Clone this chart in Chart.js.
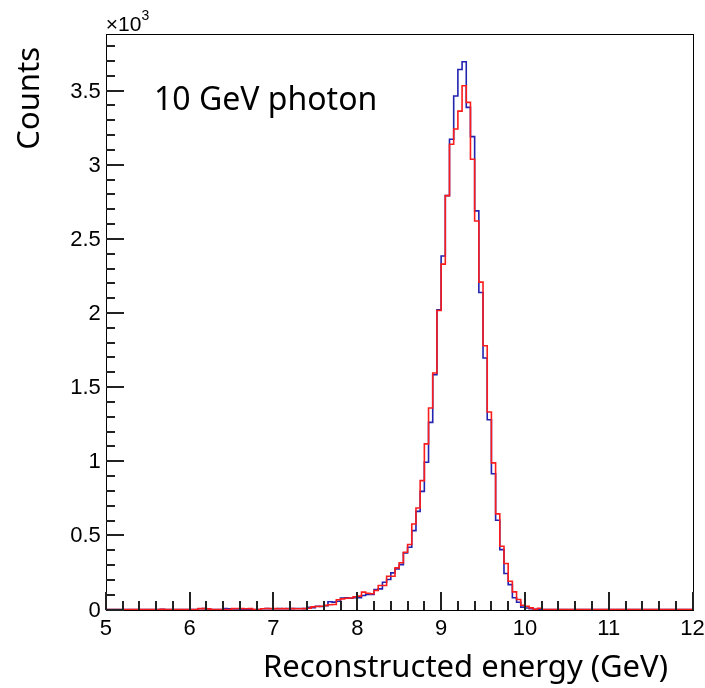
<!DOCTYPE html>
<html>
<head>
<meta charset="utf-8">
<script src="https://cdn.jsdelivr.net/npm/chart.js@4.4.0/dist/chart.umd.min.js"></script>
<style>
  html, body { margin: 0; padding: 0; background: #fff; }
</style>
</head>
<body>
<canvas id="energyChart" width="705" height="688"></canvas>
<script>
// histogram binning: 140 bins of 0.05 GeV from 5 to 12
var binStart = 5.0;
var binWidth = 0.05;

// counts per bin, one row per GeV (20 bins each)
var blueCounts = [
  0, 0, 0, 0, 0, 0, 0, 0, 0, 0, 0, 0, 0, 2, 0, 0, 0, 0, 0, 0,
  0, 0, 5, 6, 4, 0, 0, 0, 6, 5, 3, 4, 0, 0, 0, 0, 0, 5, 6, 5,
  5, 6, 5, 6, 6, 7, 7, 6, 14, 12, 22, 20, 25, 52, 50, 56, 78, 79, 76, 79,
  80, 94, 101, 101, 135, 139, 184, 202, 247, 274, 303, 382, 420, 532, 662, 797, 993, 1262, 1583, 2022,
  2385, 2792, 3172, 3464, 3643, 3695, 3387, 3190, 2689, 2138, 1696, 1280, 916, 602, 404, 243, 168, 79, 49, 16,
  10, 6, 2, 2, 0, 0, 0, 0, 0, 0, 0, 0, 0, 0, 0, 0, 0, 0, 0, 0,
  0, 0, 0, 0, 0, 0, 0, 0, 0, 0, 0, 0, 0, 0, 0, 0, 0, 0, 0, 0
];
var redCounts = [
  0, 0, 0, 0, 0, 0, 0, 0, 0, 0, 0, 0, 0, 2, 0, 0, 0, 0, 0, 0,
  0, 0, 6, 6, 4, 0, 0, 0, 0, 0, 6, 7, 6, 5, 6, 0, 0, 5, 7, 6,
  6, 5, 6, 5, 6, 5, 5, 6, 8, 18, 20, 22, 28, 32, 34, 66, 72, 76, 78, 85,
  90, 117, 110, 106, 128, 162, 162, 224, 224, 281, 315, 386, 438, 577, 685, 869, 1117, 1359, 1595, 2017,
  2330, 2792, 3138, 3241, 3362, 3533, 3421, 3037, 2621, 2208, 1779, 1332, 989, 645, 427, 310, 191, 119, 67, 29,
  22, 11, 2, 8, 0, 0, 0, 0, 0, 0, 0, 0, 0, 0, 0, 0, 0, 0, 0, 0,
  0, 0, 0, 0, 0, 0, 0, 0, 0, 0, 0, 0, 0, 0, 0, 0, 0, 0, 0, 0
];

var xTickLabels = ['5', '6', '7', '8', '9', '10', '11', '12'];
var yTickLabels = ['0', '0.5', '1', '1.5', '2', '2.5', '3', '3.5'];
var xMinorStep = 0.2;
var yMinorStep = 100;

var xTitle = 'Reconstructed energy (GeV)';
var yTitle = 'Counts';
var histLabel = '10 GeV photon';

// left bin edges + closing right edge, for a step line
function histPoints(counts) {
  var pts = counts.map(function (c, i) {
    return { x: binStart + i * binWidth, y: c };
  });
  pts.push({ x: binStart + counts.length * binWidth, y: counts[counts.length - 1] });
  return pts;
}

var labelFont = '22px "Liberation Sans", Arial, sans-serif';
var titleFont = '31px "Noto Sans", "Open Sans", sans-serif';

// ROOT-like frame with inward ticks, labels and titles
var rootAxes = {
  id: 'rootAxes',
  afterDraw: function (chart) {
    var c = chart.ctx, a = chart.chartArea;
    var xs = chart.scales.x, ys = chart.scales.y;
    var L = Math.round(a.left), R = Math.round(a.right);
    var T = Math.round(a.top), B = Math.round(a.bottom);
    c.save();
    c.fillStyle = '#000';
    // frame as thin filled bars
    c.fillRect(L, T, R - L + 1, 1);
    c.fillRect(L, B, R - L + 1, 1);
    c.fillRect(L, T, 1, B - T + 1);
    c.fillRect(R, T, 1, B - T + 1);

    // inward ticks
    c.fillStyle = '#222';
    var n, px, len;
    for (n = 0; n <= 35; n++) {
      px = Math.round(xs.getPixelForValue(5 + n * xMinorStep));
      len = (n % 5 === 0) ? 18 : 9;
      c.fillRect(px - 1, B - len, 2, len);
    }
    for (n = 0; n <= 38; n++) {
      px = Math.round(ys.getPixelForValue(n * yMinorStep));
      len = (n % 5 === 0) ? 18 : 9;
      c.fillRect(L, px - 1, len, 2);
    }

    c.fillStyle = '#000';
    c.font = labelFont;
    c.textAlign = 'center';
    c.textBaseline = 'alphabetic';
    xTickLabels.forEach(function (t, k) {
      c.fillText(t, xs.getPixelForValue(5 + k), a.bottom + 25);
    });
    c.textAlign = 'right';
    c.textBaseline = 'middle';
    yTickLabels.forEach(function (t, k) {
      c.fillText(t, a.left - 5, ys.getPixelForValue(k * 500) + 1);
    });

    // exponent marker
    c.textAlign = 'left';
    c.textBaseline = 'alphabetic';
    c.font = '21px "Liberation Sans", Arial, sans-serif';
    c.fillText('\u00d710', a.left, a.top - 3);
    var w = c.measureText('\u00d710').width;
    c.font = '14px "Liberation Sans", Arial, sans-serif';
    c.fillText('3', a.left + w, a.top - 14);

    // axis titles
    c.font = titleFont;
    c.textAlign = 'right';
    c.fillText(xTitle, 668, 677);
    c.save();
    c.translate(39, 47);
    c.rotate(-Math.PI / 2);
    c.fillText(yTitle, 0, 0);
    c.restore();

    // annotation
    c.font = '32px "Noto Sans", "Open Sans", sans-serif';
    c.textAlign = 'left';
    c.fillText(histLabel, 154, 110);
    c.restore();
  }
};

var ctx = document.getElementById('energyChart').getContext('2d');
var energyChart = new Chart(ctx, {
  type: 'line',
  data: {
    datasets: [{
      label: 'red',
      data: histPoints(redCounts),
      borderColor: '#fb1c1c',
      borderWidth: 1.6,
      stepped: true,
      pointRadius: 0,
      fill: false,
      clip: false,
      order: 0
    }, {
      label: 'blue',
      data: histPoints(blueCounts),
      borderColor: '#2323b0',
      borderWidth: 1.6,
      stepped: true,
      pointRadius: 0,
      fill: false,
      clip: false,
      order: 1
    }]
  },
  options: {
    responsive: false,
    animation: false,
    devicePixelRatio: 1,
    layout: {
      padding: { left: 105.8, top: 34.3, right: 12.4, bottom: 78.5 }
    },
    scales: {
      x: { type: 'linear', min: 5, max: 12, display: false },
      y: { type: 'linear', min: 0, max: 3880, display: false }
    },
    plugins: {
      legend: { display: false },
      tooltip: { enabled: false }
    }
  },
  plugins: [rootAxes]
});
</script>
</body>
</html>
